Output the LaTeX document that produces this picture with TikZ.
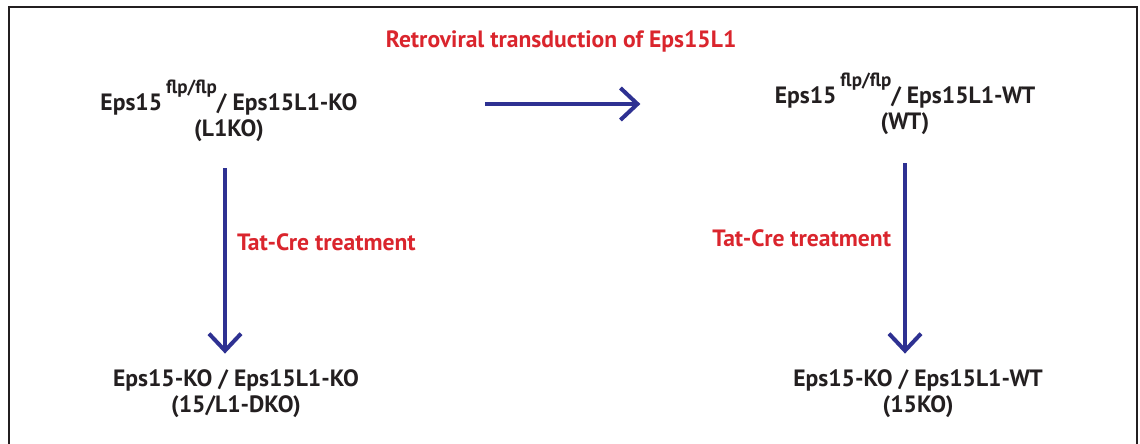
\documentclass[tikz,border=0pt]{standalone}
\usepackage{fontspec}
\setmainfont{PT Sans}
\usepackage{xcolor}
\usetikzlibrary{
    arrows.meta,
    positioning,
    calc
}

\definecolor{arrowblue}{RGB}{46,49,146}
\definecolor{labelred}{RGB}{218,37,45}
\definecolor{textdark}{RGB}{35,31,32}

\newcommand{\flpflp}{\,\raisebox{1.4ex}{\fontsize{9.5pt}{9.5pt}\selectfont flp/flp}}

\begin{document}
\begin{tikzpicture}[
        x=0.5pt,
        y=-0.5pt,
        genotype/.style={
            align=center,
            inner sep=0pt,
            text=textdark,
            font=\fontsize{11.8pt}{13pt}\selectfont\bfseries
        },
        treatment/.style={
            inner sep=0pt,
            text=labelred,
            font=\fontsize{11.8pt}{13pt}\selectfont\bfseries
        },
        line/.style={
            -{Straight Barb[length=8.5pt,width=16pt]},
            line width=2pt,
            draw=arrowblue
        }
    ]

    \useasboundingbox (0,0) rectangle (1140,444);
    \draw[textdark, line width=1pt] (9,460) -- (9,7) -- (1137,7) -- (1137,460);

    \node[genotype] (l1ko) at (229,111)
        {Eps15\flpflp/ Eps15L1-KO\\
         (L1KO)};

    \node[genotype] (wt) at (905,104)
        {Eps15\flpflp/ Eps15L1-WT\\
         (WT)};

    \node[genotype] (dko) at (236,394)
        {Eps15-KO / Eps15L1-KO\\
         (15/L1-DKO)};

    \node[genotype] (ko15) at (918,394)
        {Eps15-KO / Eps15L1-WT\\
         (15KO)};

    \draw[line, shorten <=63.5pt, shorten >=67pt]
        (l1ko.east |- wt.west)
        --
        node[treatment, above=25pt, xshift=-2.5pt] {Retroviral transduction of Eps15L1}
        (wt.west);

    \draw[line, shorten <=13pt, shorten >=8pt]
        ([xshift=-2pt]l1ko.south)
        --
        node[treatment, pos=0.44, right=5pt] {Tat-Cre treatment}
        ([xshift=-2pt]l1ko.south |- dko.north);

    \draw[line, shorten <=14pt, shorten >=8pt]
        (wt.south)
        --
        node[treatment, pos=0.44, left=6pt] {Tat-Cre treatment}
        (wt.south |- ko15.north);

    \end{tikzpicture}
\end{document}
